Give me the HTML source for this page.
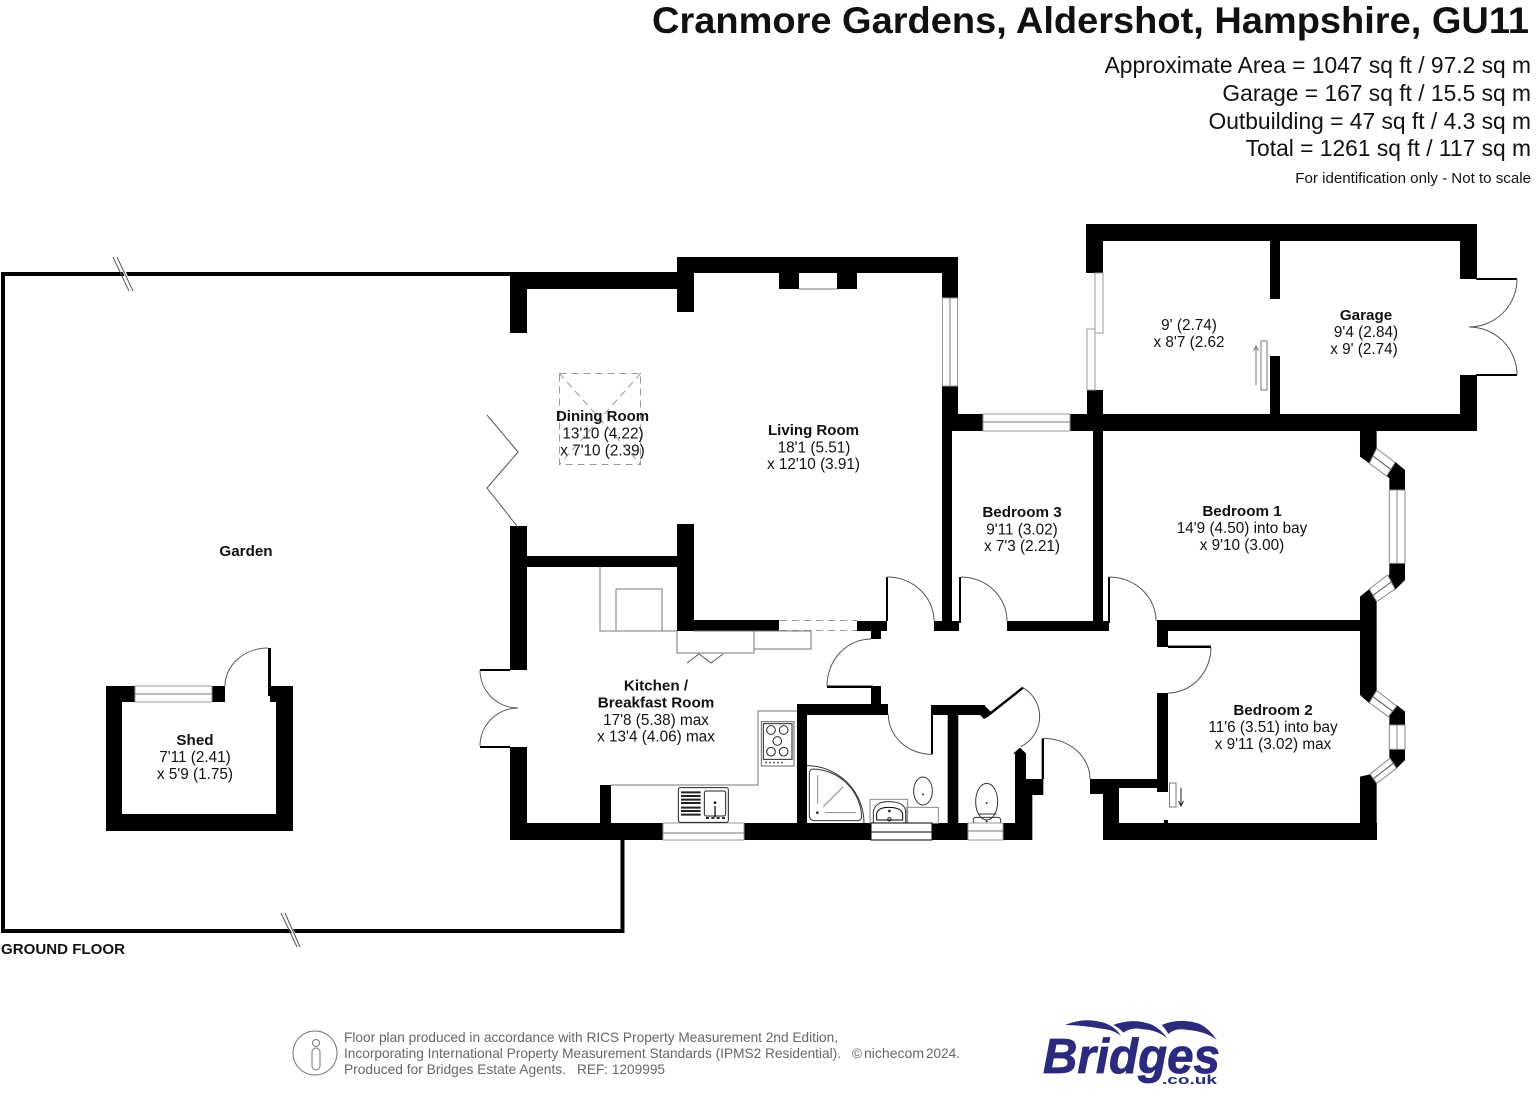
<!DOCTYPE html>
<html><head><meta charset="utf-8"><title>Cranmore Gardens floor plan</title>
<style>
html,body{margin:0;padding:0;background:#fff}
svg{display:block}
text{font-family:"Liberation Sans",sans-serif;fill:#111}
.b{font-weight:bold;font-size:15.2px;text-anchor:middle}
.r{font-size:15.3px;text-anchor:middle}
.a{font-size:22.8px;text-anchor:end}
.f{font-size:13.6px;fill:#666}
.d{fill:none;stroke:#555;stroke-width:1}
.w{fill:#fff;stroke:#999;stroke-width:1}
.t{fill:none;stroke:#777;stroke-width:1}
</style></head><body>
<svg width="1536" height="1096" viewBox="0 0 1536 1096" xmlns="http://www.w3.org/2000/svg">
<rect width="1536" height="1096" fill="#fff"/>

<!-- header -->
<text x="652" y="33" font-size="37" font-weight="bold" textLength="877" lengthAdjust="spacingAndGlyphs">Cranmore Gardens, Aldershot, Hampshire, GU11</text>
<text class="a" x="1531" y="73">Approximate Area = 1047 sq ft / 97.2 sq m</text>
<text class="a" x="1531" y="101">Garage = 167 sq ft / 15.5 sq m</text>
<text class="a" x="1531" y="129">Outbuilding = 47 sq ft / 4.3 sq m</text>
<text class="a" x="1531" y="156">Total = 1261 sq ft / 117 sq m</text>
<text x="1531" y="183" font-size="15.1" text-anchor="end">For identification only - Not to scale</text>

<!-- garden -->
<path d="M510 274 H3 V931 H622.5 V840" fill="none" stroke="#000" stroke-width="4"/>
<path d="M120 262 L130 285" stroke="#fff" stroke-width="3"/>
<path d="M113 257 L129 291 M117 257 L133 291" stroke="#555" stroke-width="1" fill="none"/>
<path d="M288 922 L295 936" stroke="#fff" stroke-width="3"/>
<path d="M281 913 L297 947 M285 913 L300 947" stroke="#555" stroke-width="1"/>

<!-- walls -->
<g fill="#000">
<rect x="510" y="272" width="167" height="17"/>
<rect x="510" y="272" width="17" height="61"/>
<rect x="677" y="257" width="281" height="16"/>
<rect x="677" y="257" width="17" height="55"/>
<rect x="779" y="273" width="20" height="16"/>
<rect x="837" y="273" width="20" height="16"/>
<rect x="942" y="257" width="16" height="41"/>
<rect x="942" y="386" width="16" height="45"/>
<rect x="942" y="431" width="10" height="200"/>
<rect x="958" y="414" width="25" height="17"/>
<rect x="1070" y="414" width="407" height="17"/>
<rect x="510" y="526" width="17" height="144"/>
<rect x="510" y="747" width="17" height="93"/>
<rect x="527" y="556" width="150" height="11"/>
<rect x="677" y="524" width="17" height="107"/>
<rect x="694" y="620" width="85" height="11"/>
<rect x="510" y="823" width="153" height="17"/>
<rect x="744" y="823" width="127" height="17"/>
<rect x="932" y="823" width="36" height="17"/>
<rect x="1003" y="823" width="29" height="17"/>
<rect x="600" y="785" width="11" height="38"/>
<rect x="797" y="704" width="10" height="119"/>
<rect x="797" y="704" width="91" height="11"/>
<rect x="871" y="686" width="10" height="18"/>
<rect x="827" y="685.500" width="46" height="2.500"/>
<rect x="857" y="621" width="30" height="10"/>
<rect x="871" y="631" width="10" height="8"/>
<rect x="886" y="577" width="2" height="44"/>
<rect x="934" y="621" width="25" height="10"/>
<rect x="959" y="577" width="2" height="46"/>
<rect x="1007" y="621" width="102" height="10"/>
<rect x="1093" y="431" width="10" height="190"/>
<rect x="1108" y="577" width="2" height="46"/>
<rect x="1157" y="620" width="203" height="11"/>
<rect x="1157" y="631" width="11" height="16"/>
<rect x="1168" y="645.500" width="43" height="2.500"/>
<rect x="1157" y="693" width="11" height="99"/>
<rect x="1090" y="779" width="67" height="9"/>
<rect x="1090" y="788" width="13" height="6"/>
<rect x="1103" y="788" width="16" height="52"/>
<rect x="1103" y="823" width="274" height="17"/>
<rect x="1164" y="820" width="4" height="3"/>
<!-- garage -->
<rect x="1086" y="224" width="391" height="17"/>
<rect x="1086" y="224" width="17" height="49"/>
<rect x="1087" y="390" width="16" height="24"/>
<rect x="1460" y="224" width="17" height="55"/>
<rect x="1460" y="375" width="17" height="56"/>
<rect x="1476" y="278" width="41" height="2"/>
<rect x="1476" y="374" width="41" height="2"/>
<rect x="1270" y="241" width="10" height="58"/>
<rect x="1270" y="356" width="10" height="58"/>
<!-- shed -->
<path fill-rule="evenodd" d="M106 686 H135 V702 H212 V686 H225 V702 H270 V686 H293 V831 H106 Z M122 702 V814 H276 V702 Z"/>
<rect x="268" y="648" width="3" height="48"/>
<!-- kitchen door jambs -->
<rect x="480" y="669" width="30" height="2"/>
<rect x="480" y="746" width="30" height="2"/>
</g>

<!-- hall block detail, zoom 3 coordinates -->
<g transform="translate(780 570) scale(.33333)">
<g fill="#000">
<rect x="455" y="405" width="160" height="30"/>
<rect x="453" y="405" width="6" height="148"/>
<path d="M612 405 L632 425 L727 350 L731 356 L625 440 L612 447 L600 435 Z"/>
<rect x="503" y="435" width="32" height="325"/>
<path d="M700 550 L720 533 L738 550 V675 H757 V810 H670 V760 H705 V552 Z"/>
<rect x="738" y="627" width="52" height="48"/>
<rect x="785" y="505" width="7" height="122"/>
<rect x="930" y="627" width="60" height="20"/>
</g>
<g fill="none" stroke="#555" stroke-width="3">
<path d="M325 433 A130 120 0 0 0 455 553"/>
<path d="M727 352 A100 100 0 0 1 722 530"/>
<path d="M790 505 A140 122 0 0 1 930 627"/>
<path d="M80 587 A172 172 0 0 1 252 760" stroke="#333"/>
<path d="M100 597 Q88 597 88 612 V735 Q88 752 105 752 H232 Q245 752 245 740 A150 150 0 0 0 100 597Z" stroke="#333"/>
<path d="M113 615 V700 M135 728 H228 M130 710 L190 650" stroke="#888"/>
<rect x="270" y="688" width="113" height="72" stroke="#888"/>
<path d="M280 760 V725 Q285 695 325 695 Q375 695 377 725 V760" stroke="#333"/>
<path d="M290 750 V730 Q295 712 325 712 Q365 712 368 732 V750 Z" stroke="#000"/>
<ellipse cx="429" cy="663" rx="28" ry="42" stroke="#333"/>
<rect x="380" y="712" width="95" height="48" stroke="#888"/>
<ellipse cx="620" cy="695" rx="33" ry="55" stroke="#333"/>
<path d="M595 732 H650" stroke="#333"/>
<rect x="580" y="742" width="82" height="20" rx="8" stroke="#333"/>
</g>
<circle cx="112" cy="728" r="4" fill="#222"/>
<circle cx="328" cy="723" r="4" fill="#222"/>
<circle cx="328" cy="748" r="5" fill="none" stroke="#222" stroke-width="3"/>
<circle cx="429" cy="673" r="3" fill="#333"/>
<circle cx="620" cy="699" r="3" fill="#333"/>
<circle cx="620" cy="754" r="3" fill="#333"/>
</g>

<!-- bedroom bays, zoom 5 coordinates -->
<g transform="translate(1090 420) scale(.33333)">
<g fill="#000">
<path d="M810 30 H860 V85 L838 130 L810 110 Z"/>
<path d="M915 125 L945 150 V210 H898 V175 L888 165 Z"/>
<path d="M898 430 H945 V480 L915 510 L890 490 L898 460 Z"/>
<path d="M810 530 L838 507 L860 545 V632 H810 Z"/>
<path d="M810 630 H860 V810 L838 850 L810 825 Z"/>
<path d="M920 855 L945 875 V915 H898 V888 L893 885 Z"/>
<path d="M898 988 H945 V1020 L920 1045 L900 1020 L898 1010 Z"/>
<path d="M810 1070 L840 1063 L860 1090 V1260 H810 Z"/>
</g>
<g fill="#fff" stroke="#888" stroke-width="3">
<path d="M860 85 L915 128 L890 168 L838 130 Z"/>
<path d="M849 108 L902 148" fill="none" stroke="#555"/>
<rect x="898" y="210" width="47" height="220"/>
<path d="M921 210 V430" fill="none"/>
<path d="M838 507 L893 465 L915 507 L860 545 Z"/>
<path d="M849 526 L904 486" fill="none" stroke="#555"/>
<path d="M860 812 L920 858 L895 890 L838 848 Z"/>
<path d="M849 830 L908 874" fill="none" stroke="#555"/>
<rect x="898" y="915" width="47" height="73"/>
<path d="M921 915 V988" fill="none"/>
<path d="M840 1062 L900 1015 L920 1045 L860 1090 Z"/>
<path d="M850 1076 L910 1030" fill="none" stroke="#555"/>
</g>
</g>

<!-- windows -->
<g class="w">
<rect class="w" x="942.500" y="298" width="15" height="88"/>
<path class="t" d="M950 298 V386"/>
<rect x="799" y="273" width="38" height="16" fill="#fff" stroke="none"/>
<path d="M799 289 H837" stroke="#777"/>
<rect class="w" x="983" y="414" width="87" height="17"/>
<path class="t" d="M983 422 H1070"/>
<rect class="w" x="663" y="823" width="81" height="17"/>
<path class="t" d="M663 833 H744"/>
<rect class="w" x="968" y="823" width="35" height="17"/>
<path class="t" d="M968 831 H1003"/>
<rect x="871" y="823" width="61" height="17" fill="#fff" stroke="#000" stroke-width="1"/>
<path d="M871 832 H932" stroke="#000"/>
<rect class="w" x="1095" y="273" width="8" height="60"/>
<rect class="w" x="1087" y="329" width="8" height="61"/>
<rect class="w" x="135" y="686" width="77" height="16"/>
<path class="t" d="M135 694 H212"/>
</g>

<!-- doors -->
<g class="d">
<path class="d" d="M887 577 A47 44 0 0 1 934 621"/>
<path class="d" d="M961 577 A46 44 0 0 1 1007 621"/>
<path class="d" d="M1109 577 A47 44 0 0 1 1156 621"/>
<path class="d" d="M827 686 A44 47 0 0 1 871 639"/>
<path class="d" d="M1211 647 A43 46 0 0 1 1168 693"/>
<path class="d" d="M225 686 A43 38 0 0 1 268 648"/>
<path class="d" d="M480 670 A38 38 0 0 0 518 708"/>
<path class="d" d="M480 746 A38 38 0 0 1 518 708"/>
<path class="d" d="M1517 279 A48 48 0 0 1 1469 327"/>
<path class="d" d="M1517 375 A48 48 0 0 0 1469 327"/>
<path class="d" d="M487 415 L518 452 L487 488 L517 526"/>
<path class="d" d="M687 663 L699 654 L711 663 L723 654"/>
</g>

<!-- skylight, dashed -->
<g fill="none" stroke="#999" stroke-width="1" stroke-dasharray="7 5">
<rect x="559.500" y="373.500" width="81" height="91"/>
<path d="M559 373 L641 465 M641 373 L559 465"/>
<path d="M780 620.500 H857 M780 630.500 H857"/>
</g>

<!-- kitchen units -->
<g class="t">
<path class="t" d="M600 567 V631 H677"/>
<path class="t" d="M616 631 V589 H662 V631"/>
<path class="t" d="M677 631 V653 H754 V631"/>
<path class="t" d="M754 649 H811 V631 H694"/>
<path class="t" d="M611 785 H758 V711 H797"/>
</g>
<g transform="translate(470 560) scale(.33333)">
<rect x="874" y="485" width="98" height="133" fill="#fff" stroke="#666" stroke-width="3"/>
<rect x="880" y="491" width="86" height="107" fill="none" stroke="#222" stroke-width="3"/>
<g fill="none" stroke="#222" stroke-width="3">
<circle cx="903" cy="510" r="13"/><circle cx="941" cy="510" r="13"/><circle cx="922" cy="543" r="13"/><circle cx="903" cy="575" r="13"/><circle cx="941" cy="575" r="13"/>
</g>
<g fill="#666"><circle cx="888" cy="608" r="3"/><circle cx="900" cy="608" r="3"/><circle cx="912" cy="608" r="3"/><circle cx="924" cy="608" r="3"/><circle cx="936" cy="608" r="3"/></g>
<rect x="625" y="683" width="150" height="104" rx="6" fill="#fff" stroke="#222" stroke-width="3"/>
<path d="M633 697 H692 M633 708 H692 M633 719 H692 M633 729 H692 M633 743 H692 M633 753 H692 M633 764 H692" stroke="#222" stroke-width="6"/>
<rect x="703" y="693" width="64" height="75" rx="6" fill="none" stroke="#222" stroke-width="3"/>
<circle cx="735" cy="728" r="4" fill="#111"/><path d="M735 738 V772" stroke="#111" stroke-width="4"/>
<path d="M708 774 H768" stroke="#111" stroke-width="5" stroke-dasharray="9 7"/>
</g>

<!-- radiators -->
<rect x="1261" y="341" width="6" height="49" fill="#fff" stroke="#777"/>
<path d="M1256 385 V347 M1253.500 351 L1256 346 L1258.500 351" fill="none" stroke="#777"/>
<rect x="1169.500" y="783" width="6.500" height="24" fill="#fff" stroke="#777"/>
<path d="M1181 788 V805 M1178.500 801 L1181 806 L1183.500 801" fill="none" stroke="#222"/>

<!-- labels -->
<text class="b" x="602.500" y="421" textLength="93" lengthAdjust="spacingAndGlyphs">Dining Room</text>
<text class="r" x="603" y="438.500">13'10 (4.22)</text>
<text class="r" x="602.500" y="455.500">x 7'10 (2.39)</text>
<text class="b" x="813.500" y="435" textLength="91" lengthAdjust="spacingAndGlyphs">Living Room</text>
<text class="r" x="814" y="452.500">18'1 (5.51)</text>
<text class="r" x="813.500" y="469">x 12'10 (3.91)</text>
<text class="b" x="656" y="690.500">Kitchen /</text>
<text class="b" x="656" y="707.500">Breakfast Room</text>
<text class="r" x="656" y="725">17'8 (5.38) max</text>
<text class="r" x="656" y="741.500">x 13'4 (4.06) max</text>
<text class="b" x="1022" y="517">Bedroom 3</text>
<text class="r" x="1022" y="534.500">9'11 (3.02)</text>
<text class="r" x="1022" y="551">x 7'3 (2.21)</text>
<text class="b" x="1242" y="516">Bedroom 1</text>
<text class="r" x="1242" y="533">14'9 (4.50) into bay</text>
<text class="r" x="1242" y="550">x 9'10 (3.00)</text>
<text class="b" x="1273" y="715">Bedroom 2</text>
<text class="r" x="1273" y="732">11'6 (3.51) into bay</text>
<text class="r" x="1273" y="749">x 9'11 (3.02) max</text>
<text class="b" x="1366" y="320">Garage</text>
<text class="r" x="1366" y="337">9'4 (2.84)</text>
<text class="r" x="1364" y="354">x 9' (2.74)</text>
<text class="r" x="1189" y="330">9' (2.74)</text>
<text class="r" x="1189" y="347">x 8'7 (2.62</text>
<text class="b" x="246" y="556">Garden</text>
<text class="b" x="195" y="745">Shed</text>
<text class="r" x="195" y="762">7'11 (2.41)</text>
<text class="r" x="195" y="779">x 5'9 (1.75)</text>
<text x="1" y="954" font-size="15" font-weight="bold" textLength="124" lengthAdjust="spacingAndGlyphs">GROUND FLOOR</text>

<!-- footer -->
<ellipse cx="315" cy="1053" rx="22" ry="22" fill="none" stroke="#777"/>
<circle cx="316" cy="1043" r="3.500" fill="none" stroke="#777"/>
<rect x="312" y="1048" width="8" height="22" rx="4" fill="none" stroke="#777"/>
<text class="f" x="344" y="1042" textLength="494" lengthAdjust="spacingAndGlyphs">Floor plan produced in accordance with RICS Property Measurement 2nd Edition,</text>
<text class="f" x="344" y="1058" textLength="497" lengthAdjust="spacingAndGlyphs">Incorporating International Property Measurement Standards (IPMS2 Residential).</text>
<text class="f" x="344" y="1074" textLength="222" lengthAdjust="spacingAndGlyphs">Produced for Bridges Estate Agents.</text>
<text class="f" x="577" y="1074" textLength="88" lengthAdjust="spacingAndGlyphs">REF: 1209995</text>
<text class="f" x="852" y="1058">©</text>
<text class="f" x="864" y="1058" textLength="60" lengthAdjust="spacingAndGlyphs">nichecom</text>
<text class="f" x="926" y="1058" textLength="34" lengthAdjust="spacingAndGlyphs">2024.</text>

<!-- logo -->
<g transform="translate(1020 1010) scale(.33333)" fill="#2b2a7c">
<path d="M135 45 Q200 18 262 42 Q290 55 303 78 Q280 58 238 55 Q180 45 135 45Z"/>
<path d="M280 45 Q340 22 398 45 Q425 60 442 85 Q412 60 370 58 Q335 50 310 68 Q300 55 280 45Z"/>
<path d="M425 45 Q480 22 540 42 Q570 58 590 90 Q560 65 505 60 Q465 52 445 72 Q438 58 425 45Z"/>
</g>
<text x="1043" y="1073" font-size="49" font-weight="bold" font-style="italic" textLength="177" lengthAdjust="spacingAndGlyphs" style="fill:#2b2a7c;stroke:#2b2a7c;stroke-width:.8">Bridges</text>
<text x="1162" y="1084" font-size="13" font-weight="bold" textLength="55" lengthAdjust="spacingAndGlyphs" style="fill:#2b2a7c">.co.uk</text>
</svg>
</body></html>
